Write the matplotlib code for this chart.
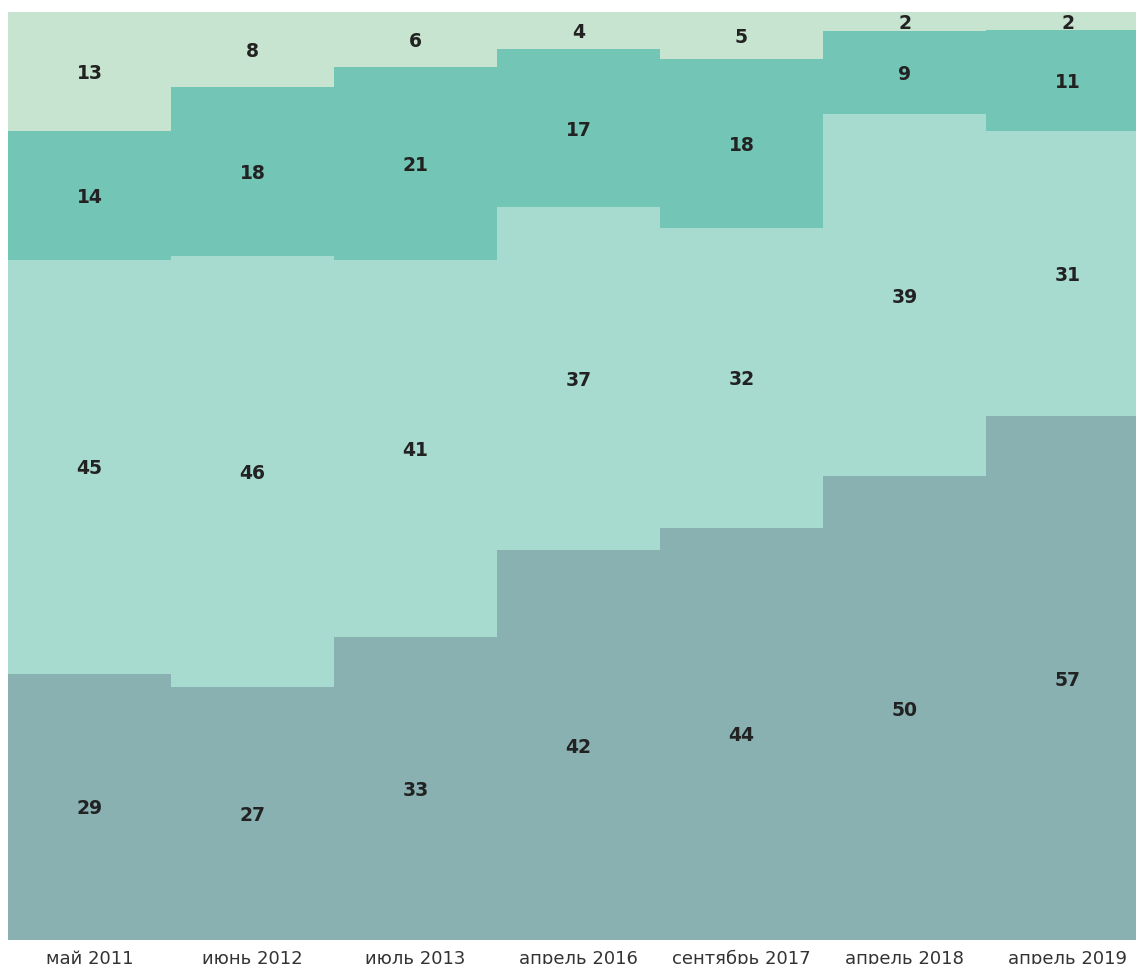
import matplotlib
matplotlib.use("Agg")
import matplotlib.pyplot as plt
import matplotlib.transforms as mtransforms
import numpy as np

categories = ["май 2011", "июнь 2012", "июль 2013", "апрель 2016",
              "сентябрь 2017", "апрель 2018", "апрель 2019"]
s1 = [29, 27, 33, 42, 44, 50, 57]
s2 = [45, 46, 41, 37, 32, 39, 31]
s3 = [14, 18, 21, 17, 18, 9, 11]
s4 = [13, 8, 6, 4, 5, 2, 2]
colors = ["#89B1B2", "#A8DBD0", "#73C6B5", "#C6E4CF"]

series = [s1, s2, s3, s4]
data = np.array(series, dtype=float)
totals = data.sum(axis=0)
norm = data / totals * 100

fig = plt.figure(figsize=(11.36, 9.64), dpi=100)
ax = fig.add_axes([8/1136, 24/964, 1 - 8/1136, (940-12)/964])

offset = mtransforms.offset_copy(ax.transData, fig=fig, x=0, y=-2, units="dots")

x = np.arange(len(categories))
bottom = np.zeros(len(categories))
for vals, nvals, c in zip(series, norm, colors):
    ax.bar(x, nvals, width=1.0, bottom=bottom, color=c, linewidth=0)
    for xi, v, nv, b in zip(x, vals, nvals, bottom):
        ax.text(xi, b + nv/2, str(v), ha="center", va="center",
                fontsize=13.5, fontweight="bold", color="#222222",
                family="DejaVu Sans", transform=offset)
    bottom += nvals

ax.set_xlim(-0.5, 6.42)
ax.set_ylim(0, 100)
ax.set_xticks(x)
ax.set_xticklabels(categories, fontsize=13, color="#333333")
ax.tick_params(axis="x", length=0, pad=7)
ax.set_yticks([])
for sp in ax.spines.values():
    sp.set_visible(False)

fig.savefig("out.png", dpi=100)
